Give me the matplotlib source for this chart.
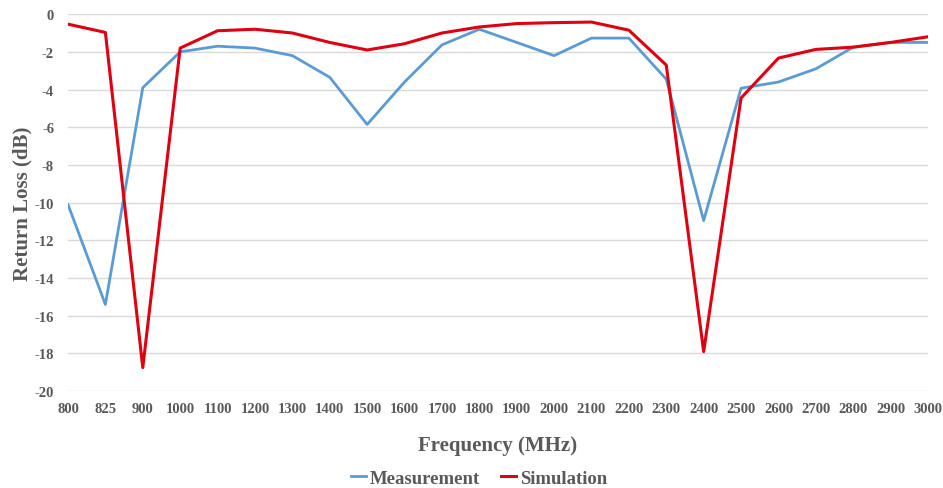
import matplotlib
matplotlib.use("Agg")
import matplotlib.pyplot as plt
import numpy as np

freqs = ["800", "825", "900", "1000", "1100", "1200", "1300", "1400", "1500",
         "1600", "1700", "1800", "1900", "2000", "2100", "2200", "2300", "2400",
         "2500", "2600", "2700", "2800", "2900", "3000"]
measurement = [-10.1, -15.4, -3.9, -2.0, -1.7, -1.8, -2.2, -3.35, -5.85,
               -3.6, -1.63, -0.8, -1.5, -2.2, -1.27, -1.27, -3.45, -10.95,
               -3.93, -3.6, -2.9, -1.75, -1.5, -1.5]
simulation = [-0.53, -0.97, -18.75, -1.8, -0.88, -0.8, -1.0, -1.5, -1.9,
              -1.57, -1.0, -0.68, -0.5, -0.45, -0.42, -0.85, -2.7, -17.9,
              -4.45, -2.33, -1.87, -1.75, -1.5, -1.2]

plt.rcParams["font.family"] = ["Liberation Serif", "DejaVu Serif"]
plt.rcParams["axes.unicode_minus"] = False
text_color = "#595959"

fig = plt.figure(figsize=(9.43, 4.89), dpi=100)
ax = fig.add_axes([0.0721, 0.198, 0.912, 0.771])

x = np.arange(len(freqs))
ax.plot(x, measurement, color="#5b9bd5", lw=2.0, label="Measurement")
ax.plot(x, simulation, color="#e00010", lw=2.2, label="Simulation")

ax.set_xlim(0, len(freqs) - 1)
ax.set_ylim(-20, 0)
ax.set_yticks(np.arange(-20, 1, 2))
ax.set_xticks(x)
ax.set_xticklabels(freqs)
ax.grid(axis="y", color="#d9d9d9", lw=1)
ax.set_axisbelow(True)
for s in ax.spines.values():
    s.set_visible(False)
ax.tick_params(length=0, colors=text_color, labelsize=10.5)
for lbl in ax.get_xticklabels() + ax.get_yticklabels():
    lbl.set_fontweight("bold")
ax.tick_params(axis="x", pad=8)
ax.tick_params(axis="y", pad=10)

ax.set_xlabel("Frequency (MHz)", fontsize=15, fontweight="bold",
              color=text_color, labelpad=14)
ax.set_ylabel("Return Loss (dB)", fontsize=15, fontweight="bold",
              color=text_color)
ax.yaxis.set_label_coords(-0.041, 0.5)

leg = fig.legend(loc="center", bbox_to_anchor=(0.508, 0.02), ncol=2,
                 frameon=False, handlelength=0.8, handletextpad=0.2,
                 columnspacing=1.1,
                 prop={"size": 13.5, "weight": "bold"})
for t in leg.get_texts():
    t.set_color(text_color)

fig.savefig("out.png", dpi=100)
